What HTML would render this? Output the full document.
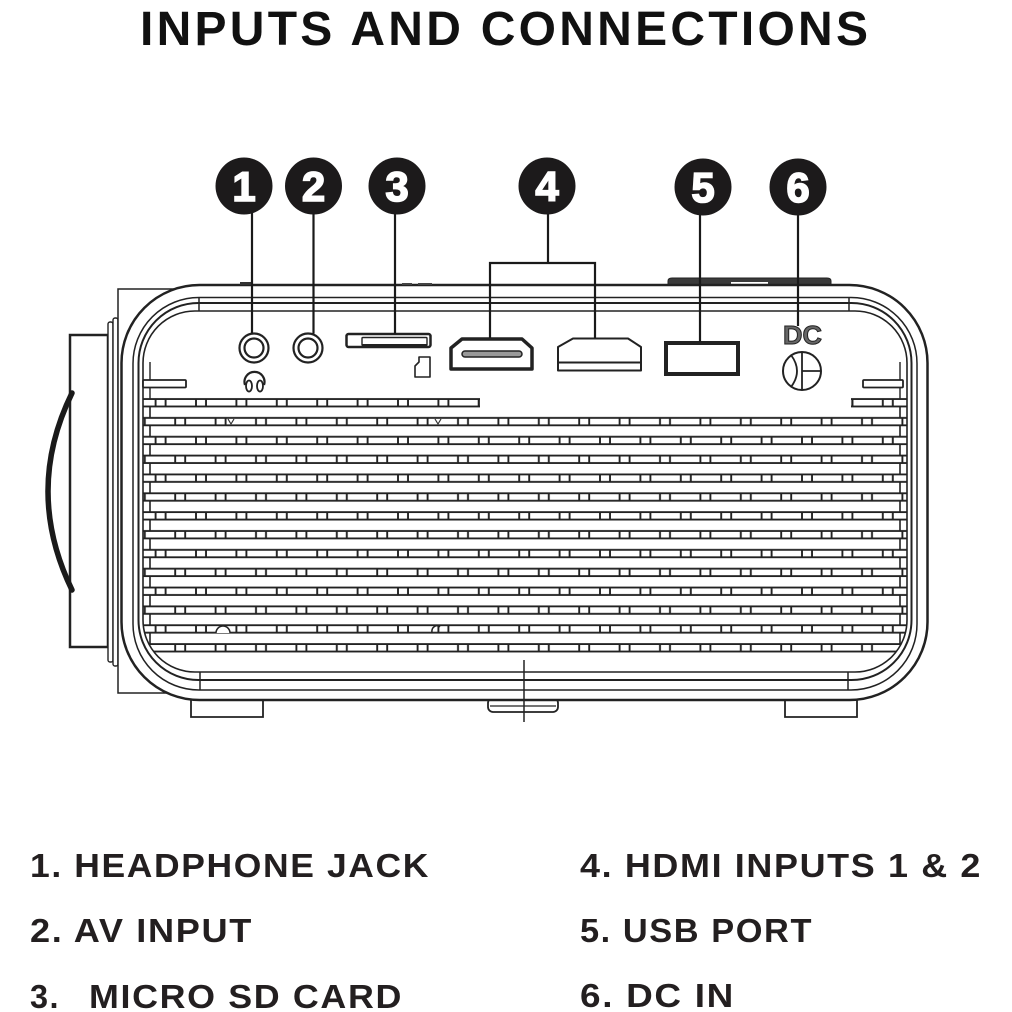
<!DOCTYPE html>
<html>
<head>
<meta charset="utf-8">
<style>
html,body{margin:0;padding:0;background:#fff;}
svg{display:block;}
text{font-family:"Liberation Sans",Arial,sans-serif;}
</style>
</head>
<body>
<svg width="1012" height="1012" viewBox="0 0 1012 1012" xmlns="http://www.w3.org/2000/svg">
<defs>
  <pattern id="g" x="191" y="395" width="40.4" height="37.7" patternUnits="userSpaceOnUse">
    <g stroke="#222" stroke-width="1.9" fill="none">
      <line x1="-1" y1="4" x2="41.4" y2="4"/>
      <line x1="-1" y1="11.5" x2="41.4" y2="11.5"/>
      <line x1="5" y1="4" x2="5" y2="11.5"/>
      <line x1="15" y1="4" x2="15" y2="11.5"/>
      <line x1="-1" y1="22.85" x2="41.4" y2="22.85"/>
      <line x1="-1" y1="30.35" x2="41.4" y2="30.35"/>
      <line x1="24.6" y1="22.85" x2="24.6" y2="30.35"/>
      <line x1="34.6" y1="22.85" x2="34.6" y2="30.35"/>
    </g>
  </pattern>
  <clipPath id="pc"><rect x="143" y="311" width="764" height="361" rx="52"/></clipPath>
</defs>

<!-- Title -->
<text x="140" y="45" font-size="48" font-weight="bold" fill="#111" textLength="728" lengthAdjust="spacing">INPUTS AND CONNECTIONS</text>

<!-- Lens -->
<rect x="70" y="335" width="38" height="312" fill="#fff" stroke="#222" stroke-width="2.5"/>
<path d="M72,393 Q24,491 72,590" fill="none" stroke="#1a1a1a" stroke-width="5.5" stroke-linecap="round"/>
<rect x="108" y="322" width="5" height="340" rx="2" fill="#fff" stroke="#222" stroke-width="1.4"/>
<rect x="113" y="318" width="5" height="348" rx="2" fill="#fff" stroke="#222" stroke-width="1.4"/>

<!-- Back box -->
<rect x="118" y="289" width="110" height="404" fill="#fff" stroke="#222" stroke-width="1.5"/>

<!-- Feet -->
<path d="M191,700 L191,717 L263,717 L263,700" fill="#fff" stroke="#222" stroke-width="1.8"/>
<path d="M785,700 L785,717 L857,717 L857,700" fill="#fff" stroke="#222" stroke-width="1.8"/>
<rect x="488" y="698" width="70" height="14" rx="5" fill="#fff" stroke="#222" stroke-width="1.8"/>
<line x1="490" y1="706" x2="556" y2="706" stroke="#222" stroke-width="1.2"/>

<!-- Top bump -->
<path d="M668,286 L668,281 Q668,278 672,278 L827,278 Q831,278 831,281 L831,286 Z" fill="#3a3a3a" stroke="#222" stroke-width="1"/>
<rect x="731" y="282" width="37" height="4" fill="#fff"/>

<!-- Shell -->
<rect x="121.5" y="285" width="806" height="415" rx="78" fill="#fff" stroke="#222" stroke-width="2.5"/>
<rect x="133" y="297.5" width="784" height="392.5" rx="66" fill="none" stroke="#222" stroke-width="1.5"/>
<rect x="138.5" y="303" width="773" height="377" rx="60" fill="none" stroke="#222" stroke-width="2"/>
<rect x="143" y="311" width="764" height="361" rx="52" fill="#fff" stroke="#222" stroke-width="1.6"/>
<g stroke="#222" stroke-width="1.5">
  <line x1="199" y1="297.5" x2="199" y2="311"/>
  <line x1="849" y1="297.5" x2="849" y2="311"/>
  <line x1="200" y1="672" x2="200" y2="690"/>
  <line x1="848" y1="672" x2="848" y2="690"/>
</g>
<!-- small marks on top -->
<rect x="240" y="282" width="13" height="3" fill="#333"/>
<rect x="402" y="283" width="10" height="2" fill="#444"/>
<rect x="418" y="283" width="14" height="2" fill="#444"/>

<!-- Grille -->
<rect x="143" y="395" width="764" height="262" fill="url(#g)" clip-path="url(#pc)"/>
<rect x="480" y="394" width="371" height="16" fill="#fff"/>
<line x1="478.8" y1="399" x2="478.8" y2="406.5" stroke="#222" stroke-width="1.9"/>
<line x1="852.4" y1="399" x2="852.4" y2="406.5" stroke="#222" stroke-width="1.9"/>
<line x1="150" y1="406.5" x2="150" y2="645" stroke="#222" stroke-width="1.6" stroke-dasharray="11.35 7.5"/>
<line x1="900" y1="406.5" x2="900" y2="645" stroke="#222" stroke-width="1.6" stroke-dasharray="11.35 7.5"/>
<line x1="150" y1="362" x2="150" y2="399" stroke="#222" stroke-width="1.4"/>
<line x1="900" y1="362" x2="900" y2="399" stroke="#222" stroke-width="1.4"/>
<rect x="143" y="380" width="43" height="7.5" rx="1" fill="#fff" stroke="#222" stroke-width="1.8"/>
<rect x="863" y="380" width="40" height="7.5" rx="1" fill="#fff" stroke="#222" stroke-width="1.8"/>
<!-- screw marks -->
<path d="M216,633 A7,7 0 0 1 230,633" fill="#fff" stroke="#222" stroke-width="1.5"/>
<path d="M432,633 A5,6 0 0 1 440,627" fill="none" stroke="#222" stroke-width="1.5"/>
<path d="M228,419 L231,424 L234,419" fill="none" stroke="#333" stroke-width="1.2"/>
<path d="M435,419 L438,424 L441,419" fill="none" stroke="#333" stroke-width="1.2"/>

<!-- Center marker -->
<line x1="524" y1="660" x2="524" y2="722" stroke="#222" stroke-width="1.5"/>

<!-- Ports -->
<g fill="none" stroke="#222">
  <circle cx="254" cy="348" r="14.5" stroke-width="2.2"/>
  <circle cx="254" cy="348" r="9.5" stroke-width="2.2"/>
  <circle cx="308" cy="348" r="14.5" stroke-width="2.2"/>
  <circle cx="308" cy="348" r="9.5" stroke-width="2.2"/>
  <!-- headphone icon -->
  <path d="M245,385 A10,10 0 1 1 264,385" stroke-width="2.2"/>
  <ellipse cx="249" cy="386" rx="3" ry="5.5" fill="#fff" stroke-width="1.8"/>
  <ellipse cx="260" cy="386" rx="3" ry="5.5" fill="#fff" stroke-width="1.8"/>
  <!-- SD slot -->
  <rect x="346.5" y="334" width="84" height="13" rx="2" stroke-width="2.5"/>
  <rect x="362" y="337.5" width="65" height="8" rx="1" stroke-width="1.4"/>
  <line x1="362" y1="345" x2="427" y2="345" stroke-width="2"/>
  <!-- SD icon -->
  <path d="M419,357 L430,357 L430,377 L415,377 L415,366 L419,362 Z" stroke-width="1.6" stroke-linejoin="round"/>
  <!-- HDMI 1 -->
  <path d="M462,339 L522,339 L532,348 L532,369 L451,369 L451,348 Z" stroke-width="3.5" stroke-linejoin="round"/>
  <rect x="462" y="351" width="60" height="6" rx="3" fill="#999" stroke-width="1.5"/>
  <!-- HDMI 2 -->
  <path d="M573,338.5 L628,338.5 L641,347 L641,370.5 L558,370.5 L558,347 Z" stroke-width="2" stroke-linejoin="round"/>
  <line x1="558" y1="362.5" x2="641" y2="362.5" stroke-width="2"/>
  <!-- USB -->
  <rect x="666" y="343" width="72" height="31" stroke-width="4"/>
  <!-- DC jack -->
  <circle cx="802" cy="371" r="19" stroke-width="2"/>
  <line x1="802" y1="352.5" x2="802" y2="389.5" stroke-width="1.8"/>
  <line x1="802" y1="371" x2="821" y2="371" stroke-width="1.8"/>
  <path d="M791,355 Q803,371 791,387" stroke-width="1.8"/>
</g>
<text x="783" y="344" font-size="26" font-weight="bold" fill="#666" stroke="#222" stroke-width="1" textLength="39" lengthAdjust="spacingAndGlyphs">DC</text>

<!-- Leader lines -->
<g stroke="#1a1a1a" stroke-width="2.2" fill="none">
  <line x1="252" y1="212" x2="252" y2="333.5"/>
  <line x1="313.5" y1="212" x2="313.5" y2="333.5"/>
  <line x1="395" y1="212" x2="395" y2="334"/>
  <line x1="548" y1="212" x2="548" y2="263"/>
  <path d="M490,338 L490,263 L595,263 L595,338"/>
  <line x1="700" y1="212" x2="700" y2="342"/>
  <line x1="798" y1="212" x2="798" y2="326"/>
</g>

<!-- Number circles -->
<g fill="#1c1a1b">
  <circle cx="244" cy="186" r="28.5"/>
  <circle cx="313.5" cy="186" r="28.5"/>
  <circle cx="397" cy="186" r="28.5"/>
  <circle cx="547" cy="186" r="28.5"/>
  <circle cx="703" cy="187" r="28.5"/>
  <circle cx="798" cy="187" r="28.5"/>
</g>
<g fill="#fff" stroke="#fff" stroke-width="1.6" font-size="42" font-weight="bold" text-anchor="middle">
  <text x="244" y="201">1</text>
  <text x="313.5" y="201">2</text>
  <text x="397" y="201">3</text>
  <text x="547" y="201">4</text>
  <text x="703" y="202">5</text>
  <text x="798" y="202">6</text>
</g>

<!-- Legend -->
<g fill="#231f20" font-size="33" font-weight="bold" letter-spacing="1.5">
  <text x="30" y="877" textLength="400" lengthAdjust="spacingAndGlyphs">1. HEADPHONE JACK</text>
  <text x="30" y="942" textLength="223" lengthAdjust="spacingAndGlyphs">2. AV INPUT</text>
  <text x="30" y="1008" textLength="30" lengthAdjust="spacingAndGlyphs">3.</text>
  <text x="89" y="1008" textLength="314" lengthAdjust="spacingAndGlyphs">MICRO SD CARD</text>
  <text x="580" y="877" textLength="402" lengthAdjust="spacingAndGlyphs">4. HDMI INPUTS 1 &amp; 2</text>
  <text x="580" y="942" textLength="233" lengthAdjust="spacingAndGlyphs">5. USB PORT</text>
  <text x="580" y="1007" textLength="155" lengthAdjust="spacingAndGlyphs">6. DC IN</text>
</g>
</svg>
</body>
</html>
